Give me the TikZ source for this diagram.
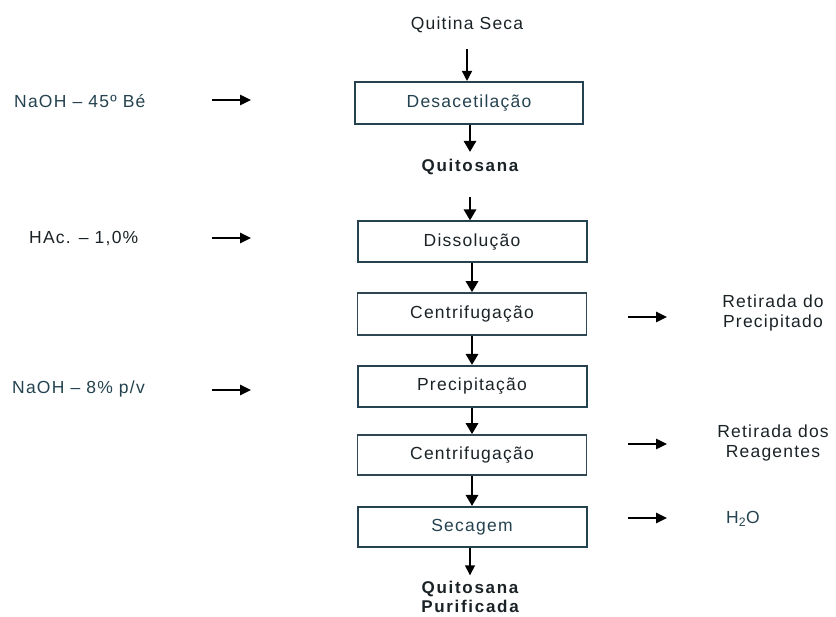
\documentclass[tikz,border=0pt]{standalone}
\usepackage{fontspec}
\setmainfont{Liberation Sans}
\newfontfamily\spaced[LetterSpace=7]{Liberation Sans}
\newfontfamily\bspaced[LetterSpace=10]{Liberation Sans Bold}
\usetikzlibrary{arrows.meta}
\definecolor{txt}{HTML}{1A2226}
\definecolor{teal}{HTML}{24424F}
\definecolor{edge}{HTML}{2E4752}
\begin{document}
\begin{tikzpicture}[x=1pt,y=-1pt,
  lbl/.style={font=\spaced\fontsize{17.5}{20}\selectfont, text=txt, inner sep=0pt},
  blbl/.style={font=\bspaced\fontsize{17}{18.5}\selectfont, text=txt, inner sep=0pt, align=center},
  stepbox/.style={draw=edge, line width=1.5pt, minimum width=229pt, minimum height=41pt, inner sep=0pt,
    font=\spaced\fontsize{17.5}{20}\selectfont, text=txt},
  hlbox/.style={stepbox, draw=teal, line width=2pt},
  thick arrow/.style={line width=2.8pt, -{Triangle[length=11pt,width=12pt]}},
  thin arrow/.style={line width=1.4pt, -{Triangle[length=10pt,width=10pt]}},
  side arrow/.style={line width=2.5pt, -{Triangle[length=11pt,width=10pt]}}
]
\useasboundingbox (0,0) rectangle (836,617);

% main column
\node[lbl] (qs) at (467,25) {Quitina Seca};
\node[hlbox, minimum width=228pt, minimum height=42pt, text=teal] (desa) at (469,103) {Desacetilação};
\node[blbl] (quit) at (470,167) {Quitosana};
\node[hlbox] (diss) at (472,242) {Dissolução};
\node[stepbox, minimum height=42pt] (cen1) at (472,314) {Centrifugação};
\node[hlbox] (prec) at (472,386.5) {Precipitação};
\node[stepbox, minimum height=40pt] (cen2) at (472,455) {Centrifugação};
\node[hlbox, minimum height=40pt, text=teal] (sec) at (472,527) {Secagem};
\node[blbl] (qp) at (470,597) {Quitosana\\Purificada};

% vertical connectors
\draw[thin arrow, shorten <=16pt] (qs.south) -- (qs.south |- desa.north);
\draw[thick arrow, shorten >=7pt] (desa.south -| quit.north) -- (quit.north);
\draw[thick arrow, shorten <=22pt] (quit.south) -- (quit.south |- diss.north);
\draw[thick arrow] (diss.south) -- (cen1.north);
\draw[thick arrow] (cen1.south) -- (prec.north);
\draw[thick arrow] (prec.south) -- (cen2.north);
\draw[thick arrow] (cen2.south) -- (sec.north);
\draw[thin arrow, shorten >=6pt] (sec.south -| qp.north) -- (qp.north);

% left inputs
\node[lbl, anchor=west, text=teal] (in1) at (14,101) {NaOH – 45º Bé};
\node[lbl, anchor=west] (in2) at (29,239) {HAc. – 1,0\%};
\node[lbl, anchor=west, text=teal] (in3) at (12,389) {NaOH – 8\% p/v};
\coordinate (a1s) at (212,100); \coordinate (a1e) at (251,100);
\coordinate (a2s) at (212,238); \coordinate (a2e) at (251,238);
\coordinate (a3s) at (212,390); \coordinate (a3e) at (251,390);
\draw[side arrow] (a1s) -- (a1e);
\draw[side arrow] (a2s) -- (a2e);
\draw[side arrow] (a3s) -- (a3e);

% right outputs
\node[lbl, align=center] (out1) at (773,313) {Retirada do\\Precipitado};
\node[lbl, align=center] (out2) at (773,443) {Retirada dos\\Reagentes};
\node[lbl, text=teal] (out3) at (743,519) {H\textsubscript{2}O};
\coordinate (b1s) at (628,317); \coordinate (b1e) at (667,317);
\coordinate (b2s) at (628,444); \coordinate (b2e) at (667,444);
\coordinate (b3s) at (628,518); \coordinate (b3e) at (667,518);
\draw[side arrow] (b1s) -- (b1e);
\draw[side arrow] (b2s) -- (b2e);
\draw[side arrow] (b3s) -- (b3e);
\end{tikzpicture}
\end{document}
